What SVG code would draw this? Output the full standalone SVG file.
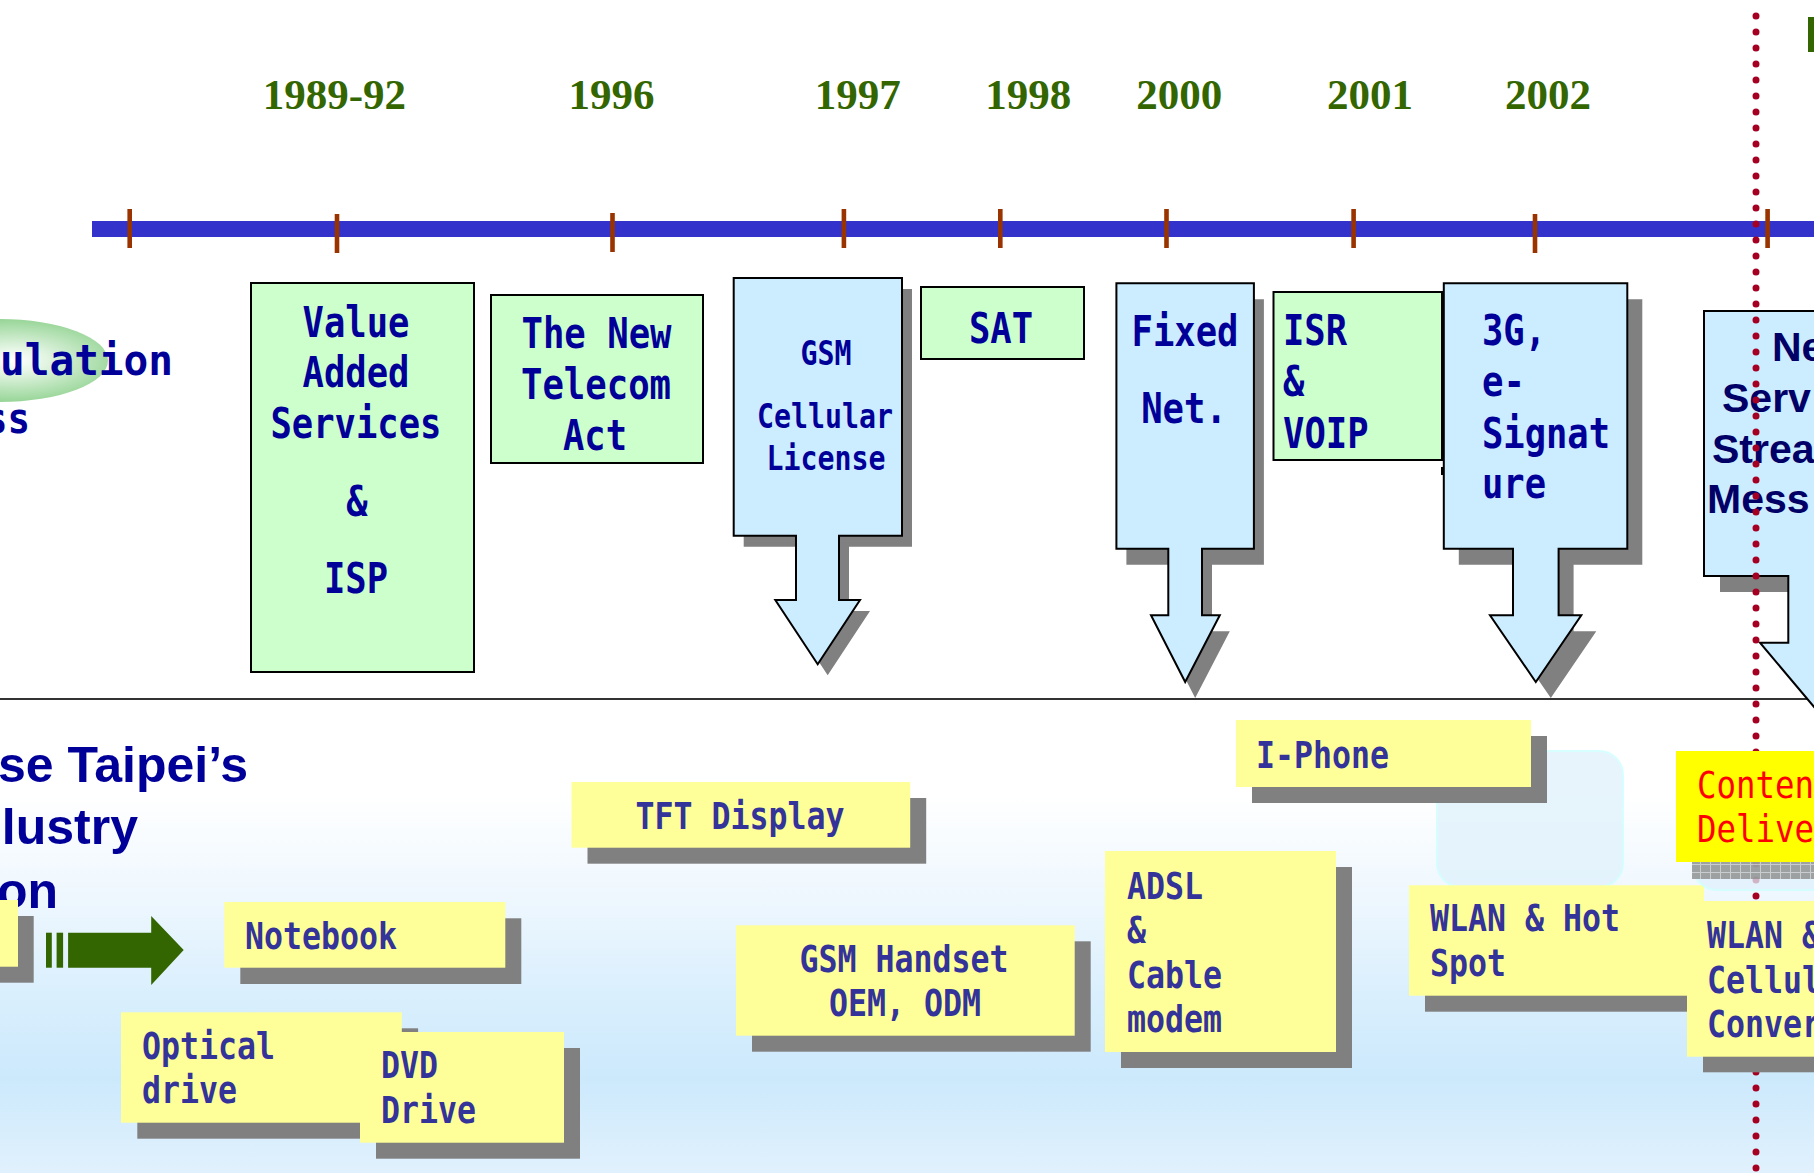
<svg xmlns="http://www.w3.org/2000/svg" width="1814" height="1173" viewBox="0 0 1814 1173">
<defs>
  <linearGradient id="bg" x1="0" y1="699" x2="0" y2="1173" gradientUnits="userSpaceOnUse">
    <stop offset="0" stop-color="#ffffff"/>
    <stop offset="0.2" stop-color="#ffffff"/>
    <stop offset="0.42" stop-color="#eef7fe"/>
    <stop offset="0.62" stop-color="#daeffd"/>
    <stop offset="0.8" stop-color="#cce9fc"/>
    <stop offset="1" stop-color="#e1f1fd"/>
  </linearGradient>
  <radialGradient id="ell" cx="0.56" cy="0.5" r="0.5">
    <stop offset="0" stop-color="#ffffff"/>
    <stop offset="0.3" stop-color="#e4f5e4"/>
    <stop offset="1" stop-color="#97d597"/>
  </radialGradient>
  <pattern id="hatch" width="10" height="8" patternUnits="userSpaceOnUse">
    <rect width="10" height="8" fill="#8c8c8c"/>
    <path d="M0 0.5H10M0.5 0V8" stroke="#c4c4c4" stroke-width="1"/>
  </pattern>
  <style>
    .g{fill:#ccffcc;stroke:#000;stroke-width:2}
    .b{fill:#ccecff;stroke:#000;stroke-width:2}
    .sh{fill:#808080}
    .y{fill:#ffff99}
    .tick{fill:#993300}
    .t1{font-family:"DejaVu Sans Mono",monospace;font-weight:bold;font-size:43px;fill:#000099}
    .t2{font-family:"DejaVu Sans Mono",monospace;font-weight:bold;font-size:34px;fill:#000099}
    .t3{font-family:"DejaVu Sans Mono",monospace;font-weight:bold;font-size:38px;fill:#333399}
    .t4{font-family:"DejaVu Sans Mono",monospace;font-weight:normal;font-size:37px;fill:#ff0000}
    .m{text-anchor:middle}
    .yr{font-family:"Liberation Serif","Times New Roman",serif;font-weight:bold;font-size:43px;fill:#336600;text-anchor:middle}
    .hd{font-family:"Liberation Sans",Arial,sans-serif;font-weight:bold;font-size:50px;fill:#000099;text-anchor:end}
    .ns{font-family:"Liberation Sans",Arial,sans-serif;font-weight:bold;font-size:41px;fill:#000066}
    .lb{fill:#dff1fc;stroke:#ccffff;stroke-width:2;opacity:0.75}
  </style>
</defs>

<rect x="0" y="0" width="1814" height="1173" fill="#ffffff"/>
<rect x="0" y="699" width="1814" height="474" fill="url(#bg)"/>
<line x1="0" y1="699" x2="1814" y2="699" stroke="#333333" stroke-width="2"/>

<g id="deregulation">
  <ellipse cx="0" cy="360.5" rx="108" ry="41.5" fill="url(#ell)"/>
  <text class="t1" x="0" y="375" font-size="44" textLength="173" lengthAdjust="spacingAndGlyphs">ulation</text>
  <text class="t1" x="-15" y="433" font-size="44" textLength="45" lengthAdjust="spacingAndGlyphs">ss</text>
</g>

<g id="years">
  <text class="yr" x="334.4" y="109">1989-92</text>
  <text class="yr" x="611.4" y="109">1996</text>
  <text class="yr" x="857.8" y="109">1997</text>
  <text class="yr" x="1028.3" y="109">1998</text>
  <text class="yr" x="1179.3" y="109">2000</text>
  <text class="yr" x="1370" y="109">2001</text>
  <text class="yr" x="1548" y="109">2002</text>
  <rect x="1808" y="17" width="6" height="35" fill="#336600"/>
</g>

<g id="timeline">
  <rect x="92" y="221" width="1722" height="16" fill="#3333cc"/>
  <rect class="tick" x="127.4" y="209" width="4.6" height="39"/>
  <rect class="tick" x="334.7" y="214" width="4.6" height="39"/>
  <rect class="tick" x="610.2" y="213" width="4.6" height="39"/>
  <rect class="tick" x="841.6" y="209" width="4.6" height="39"/>
  <rect class="tick" x="998" y="209" width="4.6" height="39"/>
  <rect class="tick" x="1164.2" y="209" width="4.6" height="39"/>
  <rect class="tick" x="1351.3" y="209" width="4.6" height="39"/>
  <rect class="tick" x="1532.7" y="214" width="4.6" height="39"/>
  <rect class="tick" x="1765.3" y="209" width="4.6" height="39"/>
</g>

<g id="value-added">
  <rect class="g" x="251" y="283" width="223" height="389"/>
  <text class="t1 m" x="356" y="337" textLength="107" lengthAdjust="spacingAndGlyphs">Value</text>
  <text class="t1 m" x="356" y="387" textLength="107" lengthAdjust="spacingAndGlyphs">Added</text>
  <text class="t1 m" x="356" y="438" textLength="171" lengthAdjust="spacingAndGlyphs">Services</text>
  <text class="t1 m" x="357" y="516" textLength="21.4" lengthAdjust="spacingAndGlyphs">&amp;</text>
  <text class="t1 m" x="356" y="593" textLength="64" lengthAdjust="spacingAndGlyphs">ISP</text>
</g>

<g id="telecom-act">
  <rect class="g" x="491" y="295" width="212" height="168"/>
  <text class="t1 m" x="596.5" y="348" textLength="150" lengthAdjust="spacingAndGlyphs">The New</text>
  <text class="t1 m" x="596" y="399" textLength="150" lengthAdjust="spacingAndGlyphs">Telecom</text>
  <text class="t1 m" x="595" y="450" textLength="64" lengthAdjust="spacingAndGlyphs">Act</text>
</g>

<g id="gsm-license">
  <polygon class="sh" transform="translate(10,11)" points="733.7,278 902,278 902,535.7 839,535.7 839,600 860,600 817.7,664.3 775.3,600 796,600 796,535.7 733.7,535.7"/>
  <polygon class="b" points="733.7,278 902,278 902,535.7 839,535.7 839,600 860,600 817.7,664.3 775.3,600 796,600 796,535.7 733.7,535.7"/>
  <text class="t2 m" x="826" y="365" textLength="51" lengthAdjust="spacingAndGlyphs">GSM</text>
  <text class="t2 m" x="825" y="428" textLength="136" lengthAdjust="spacingAndGlyphs">Cellular</text>
  <text class="t2 m" x="826" y="470" textLength="119" lengthAdjust="spacingAndGlyphs">License</text>
</g>

<g id="sat">
  <rect class="g" x="921" y="287" width="163" height="72"/>
  <text class="t1 m" x="1001" y="342.5" textLength="64" lengthAdjust="spacingAndGlyphs">SAT</text>
</g>

<g id="fixed-net">
  <polygon class="sh" transform="translate(10,16)" points="1116.4,283.3 1253.9,283.3 1253.9,548.7 1202,548.7 1202,615.3 1219.8,615.3 1185.2,682 1151,615.3 1168.3,615.3 1168.3,548.7 1116.4,548.7"/>
  <polygon class="b" points="1116.4,283.3 1253.9,283.3 1253.9,548.7 1202,548.7 1202,615.3 1219.8,615.3 1185.2,682 1151,615.3 1168.3,615.3 1168.3,548.7 1116.4,548.7"/>
  <text class="t1 m" x="1185" y="346" textLength="107" lengthAdjust="spacingAndGlyphs">Fixed</text>
  <text class="t1 m" x="1184" y="423" textLength="85.6" lengthAdjust="spacingAndGlyphs">Net.</text>
</g>

<g id="isr-voip">
  <rect class="g" x="1273.5" y="292" width="168.5" height="168"/>
  <rect x="1441" y="467" width="2" height="8" fill="#000"/>
  <text class="t1" x="1283" y="345" textLength="64" lengthAdjust="spacingAndGlyphs">ISR</text>
  <text class="t1" x="1283" y="396" textLength="21.4" lengthAdjust="spacingAndGlyphs">&amp;</text>
  <text class="t1" x="1283" y="448" textLength="85.6" lengthAdjust="spacingAndGlyphs">VOIP</text>
</g>

<g id="3g-esignature">
  <polygon class="sh" transform="translate(15,16)" points="1443.8,283.3 1627.3,283.3 1627.3,548.7 1558.6,548.7 1558.6,615.3 1581.3,615.3 1535.8,682 1490,615.3 1513,615.3 1513,548.7 1443.8,548.7"/>
  <polygon class="b" points="1443.8,283.3 1627.3,283.3 1627.3,548.7 1558.6,548.7 1558.6,615.3 1581.3,615.3 1535.8,682 1490,615.3 1513,615.3 1513,548.7 1443.8,548.7"/>
  <text class="t1" x="1482" y="345" textLength="64" lengthAdjust="spacingAndGlyphs">3G,</text>
  <text class="t1" x="1482" y="396" textLength="43" lengthAdjust="spacingAndGlyphs">e-</text>
  <text class="t1" x="1482" y="448" textLength="128" lengthAdjust="spacingAndGlyphs">Signat</text>
  <text class="t1" x="1482" y="498" textLength="64" lengthAdjust="spacingAndGlyphs">ure</text>
</g>

<g id="new-services">
  <polygon class="sh" transform="translate(16,16)" points="1704,311 1976,311 1976,576 1892,576 1892,642.7 1920,642.7 1840,737.7 1760,642.7 1788.3,642.7 1788.3,576 1704,576"/>
  <polygon class="b" points="1704,311 1976,311 1976,576 1892,576 1892,642.7 1920,642.7 1840,737.7 1760,642.7 1788.3,642.7 1788.3,576 1704,576"/>
  <text class="ns" x="1772" y="361">Ne</text>
  <text class="ns" x="1722" y="412">Serv</text>
  <text class="ns" x="1712" y="463">Strea</text>
  <text class="ns" x="1707" y="513">Mess</text>
</g>

<g id="industry-title">
  <text class="hd" x="248" y="782">se Taipei’s</text>
  <text class="hd" x="138" y="843.5">lustry</text>
  <text class="hd" x="58" y="908">on</text>
</g>

<g id="left-box">
  <rect class="sh" x="-84" y="916" width="117.7" height="66.7"/>
  <rect class="y" x="-100" y="900" width="118" height="66.7"/>
</g>

<g id="connectors">
  <rect x="46" y="932.7" width="5.8" height="35" fill="#336600"/>
  <rect x="56.6" y="932.7" width="6.5" height="35" fill="#336600"/>
  <polygon fill="#336600" points="68.1,932.7 151.2,932.7 151.2,916 183.7,950 151.2,985 151.2,967.7 68.1,967.7"/>
</g>

<line x1="1756" y1="16" x2="1756" y2="1172" stroke="#a50021" stroke-width="7" stroke-linecap="round" stroke-dasharray="0 16"/>

<g id="notebook">
  <rect class="sh" x="240.3" y="918.3" width="281" height="65.7"/>
  <rect class="y" x="224.3" y="902" width="281" height="65.7"/>
  <text class="t3" x="245" y="949.3" textLength="152" lengthAdjust="spacingAndGlyphs">Notebook</text>
</g>

<g id="optical-drive">
  <rect class="sh" x="137.3" y="1028.3" width="280.8" height="110.4"/>
  <rect class="y" x="121" y="1012.3" width="280.8" height="110.4"/>
  <text class="t3" x="142" y="1059.3" textLength="133" lengthAdjust="spacingAndGlyphs">Optical</text>
  <text class="t3" x="142" y="1103.3" textLength="95" lengthAdjust="spacingAndGlyphs">drive</text>
</g>

<g id="dvd-drive">
  <rect class="sh" x="376" y="1048" width="204" height="110.7"/>
  <rect class="y" x="360" y="1032" width="204" height="110.7"/>
  <text class="t3" x="381" y="1078.3" textLength="57" lengthAdjust="spacingAndGlyphs">DVD</text>
  <text class="t3" x="381" y="1123.3" textLength="95" lengthAdjust="spacingAndGlyphs">Drive</text>
</g>

<g id="tft-display">
  <rect class="sh" x="587.5" y="798" width="338.7" height="65.7"/>
  <rect class="y" x="571.5" y="782" width="338.7" height="65.7"/>
  <text class="t3 m" x="740" y="829" textLength="209" lengthAdjust="spacingAndGlyphs">TFT Display</text>
</g>

<g id="gsm-handset">
  <rect class="sh" x="752" y="941.3" width="338.7" height="110.4"/>
  <rect class="y" x="736" y="925.3" width="338.7" height="110.4"/>
  <text class="t3 m" x="904" y="971.7" textLength="209" lengthAdjust="spacingAndGlyphs">GSM Handset</text>
  <text class="t3 m" x="905" y="1016" textLength="152" lengthAdjust="spacingAndGlyphs">OEM, ODM</text>
</g>

<g id="adsl-cable">
  <rect class="sh" x="1121" y="867" width="231" height="201"/>
  <rect class="y" x="1105" y="851" width="231" height="201"/>
  <text class="t3" x="1127" y="898.5" textLength="76" lengthAdjust="spacingAndGlyphs">ADSL</text>
  <text class="t3" x="1127" y="942.5" textLength="19" lengthAdjust="spacingAndGlyphs">&amp;</text>
  <text class="t3" x="1127" y="987.5" textLength="95" lengthAdjust="spacingAndGlyphs">Cable</text>
  <text class="t3" x="1127" y="1032" textLength="95" lengthAdjust="spacingAndGlyphs">modem</text>
</g>

<g id="backdrop-1">
  <rect class="lb" x="1437" y="751" width="186" height="136" rx="24"/>
</g>

<g id="i-phone">
  <rect class="sh" x="1252" y="736" width="295" height="67"/>
  <rect class="y" x="1236" y="720" width="295" height="67"/>
  <text class="t3" x="1256" y="767.7" textLength="133" lengthAdjust="spacingAndGlyphs">I-Phone</text>
</g>

<g id="wlan-hotspot">
  <rect class="sh" x="1425" y="901.3" width="295" height="110.4"/>
  <rect class="y" x="1409" y="885.3" width="295" height="110.4"/>
  <text class="t3" x="1430" y="931" textLength="190" lengthAdjust="spacingAndGlyphs">WLAN &amp; Hot</text>
  <text class="t3" x="1430" y="976" textLength="76" lengthAdjust="spacingAndGlyphs">Spot</text>
</g>

<g id="content-delivery">
  <rect class="lb" x="1693" y="770" width="200" height="120" rx="24"/>
  <rect x="1692" y="767" width="200" height="112" fill="url(#hatch)" opacity="0.8"/>
  <rect x="1676" y="751" width="200" height="111" fill="#ffff00"/>
  <text class="t4" x="1697" y="797.7" textLength="117" lengthAdjust="spacingAndGlyphs">Conten</text>
  <text class="t4" x="1697" y="841.7" textLength="117" lengthAdjust="spacingAndGlyphs">Delive</text>
</g>

<g id="wlan-cellular">
  <rect class="sh" x="1703" y="917" width="200" height="155.3"/>
  <rect class="y" x="1687" y="901" width="200" height="155.7"/>
  <text class="t3" x="1707" y="948.3" textLength="114" lengthAdjust="spacingAndGlyphs">WLAN &amp;</text>
  <text class="t3" x="1707" y="993.3" textLength="114" lengthAdjust="spacingAndGlyphs">Cellul</text>
  <text class="t3" x="1707" y="1037.3" textLength="114" lengthAdjust="spacingAndGlyphs">Conver</text>
</g>
</svg>
